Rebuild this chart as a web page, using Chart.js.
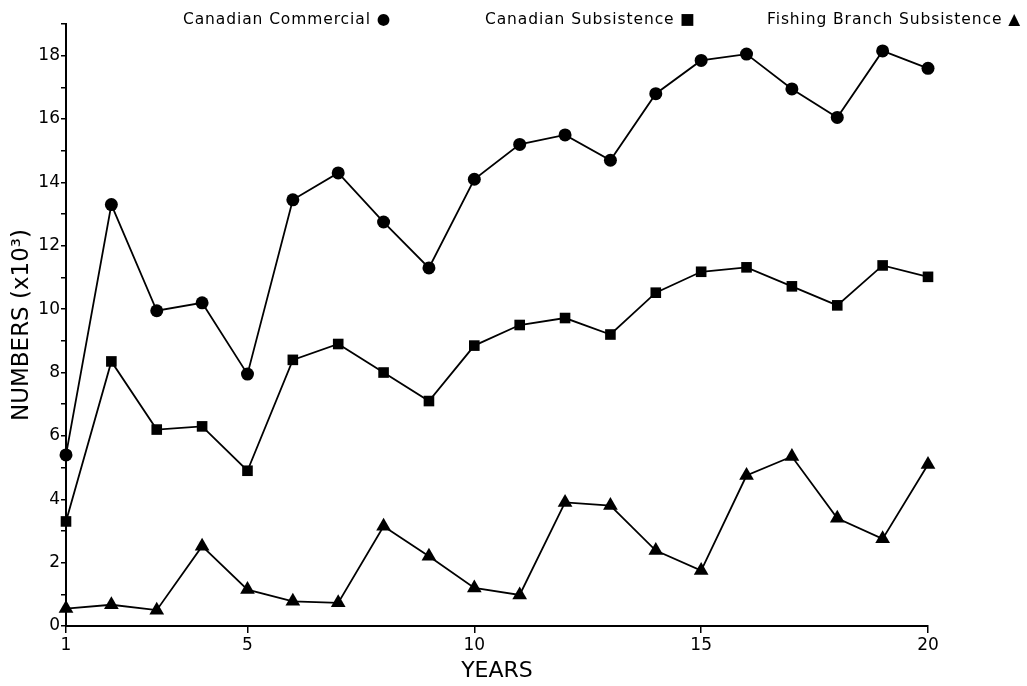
<!DOCTYPE html>
<html>
<head>
<meta charset="utf-8">
<script src="https://cdn.jsdelivr.net/npm/chart.js@4.4.1/dist/chart.umd.min.js"></script>
<style>
  html, body { margin: 0; padding: 0; background: #fff; }
  #wrap { position: relative; width: 1027px; height: 686px; }
  .leg { position: absolute; top: 10px; font-family: "DejaVu Sans", sans-serif; font-size: 15.5px; line-height: 18px; letter-spacing: 0.9px; color: #000; white-space: nowrap; }
</style>
</head>
<body>
<div id="wrap">
  <canvas id="c" width="1027" height="686"></canvas>
  <div class="leg" style="left:183px">Canadian Commercial ●</div>
  <div class="leg" style="left:485px">Canadian Subsistence ■</div>
  <div class="leg" style="left:767px">Fishing Branch Subsistence ▲</div>
</div>
<script>
const years = [1,2,3,4,5,6,7,8,9,10,11,12,13,14,15,16,17,18,19,20];
const commercial = [5.4, 13.3, 9.95, 10.2, 7.95, 13.45, 14.3, 12.75, 11.3, 14.1, 15.2, 15.5, 14.7, 16.8, 17.85, 18.05, 16.95, 16.05, 18.15, 17.6];
const subsistence = [3.3, 8.35, 6.2, 6.3, 4.9, 8.4, 8.9, 8.0, 7.1, 8.85, 9.5, 9.72, 9.2, 10.52, 11.18, 11.32, 10.72, 10.12, 11.38, 11.02];
const fishingBranch = [0.55, 0.67, 0.5, 2.52, 1.15, 0.78, 0.73, 3.15, 2.2, 1.2, 0.98, 3.9, 3.8, 2.38, 1.75, 4.75, 5.35, 3.4, 2.75, 5.1];
const xTickValues = [1, 5, 10, 15, 20];
const seriesNames = ['Canadian Commercial', 'Canadian Subsistence', 'Fishing Branch Subsistence'];

const toXY = arr => arr.map((v, i) => ({x: years[i], y: v}));
const base = { borderColor: '#000', backgroundColor: '#000', borderWidth: 1.8, pointBorderWidth: 0, clip: false, tension: 0 };

new Chart(document.getElementById('c'), {
  type: 'line',
  data: {
    datasets: [
      Object.assign({ label: seriesNames[0], data: toXY(commercial), pointStyle: 'circle', pointRadius: 6.5 }, base),
      Object.assign({ label: seriesNames[1], data: toXY(subsistence), pointStyle: 'rect', pointRadius: 7.5 }, base),
      Object.assign({ label: seriesNames[2], data: toXY(fishingBranch), pointStyle: 'triangle', pointRadius: 8.5 }, base)
    ]
  },
  options: {
    responsive: false,
    animation: false,
    events: [],
    layout: { padding: { top: 24, right: 99, left: 0, bottom: 0 } },
    plugins: { legend: { display: false }, tooltip: { enabled: false } },
    scales: {
      x: {
        type: 'linear', min: 1, max: 20,
        afterBuildTicks: s => { s.ticks = xTickValues.map(v => ({ value: v })); },
        afterFit: s => { s.height = 60; },
        grid: { drawOnChartArea: false, drawTicks: true, tickLength: 7, color: '#000', lineWidth: 1.5 },
        border: { display: true, color: '#000', width: 2 },
        ticks: { color: '#000', padding: 2, font: { family: 'DejaVu Sans', size: 17 }, maxRotation: 0, autoSkip: false, callback: v => String(v) },
        title: { display: true, text: 'YEARS', color: '#000', font: { family: 'DejaVu Sans', size: 22 }, padding: { top: 0, bottom: 2 } }
      },
      y: {
        min: 0, max: 19,
        afterFit: s => { s.width = 66; },
        grid: { drawOnChartArea: false, drawTicks: true, tickLength: 5, color: '#000', lineWidth: 1.5 },
        border: { display: true, color: '#000', width: 2 },
        ticks: { stepSize: 1, color: '#000', padding: 1, font: { family: 'DejaVu Sans', size: 17 }, autoSkip: false,
                 callback: v => (v % 2 === 0 ? String(v) : '') },
        title: { display: true, text: 'NUMBERS (x10³)', color: '#000', font: { family: 'DejaVu Sans', size: 23 }, padding: { top: 8, bottom: 0 } }
      }
    }
  }
});
</script>
</body>
</html>
